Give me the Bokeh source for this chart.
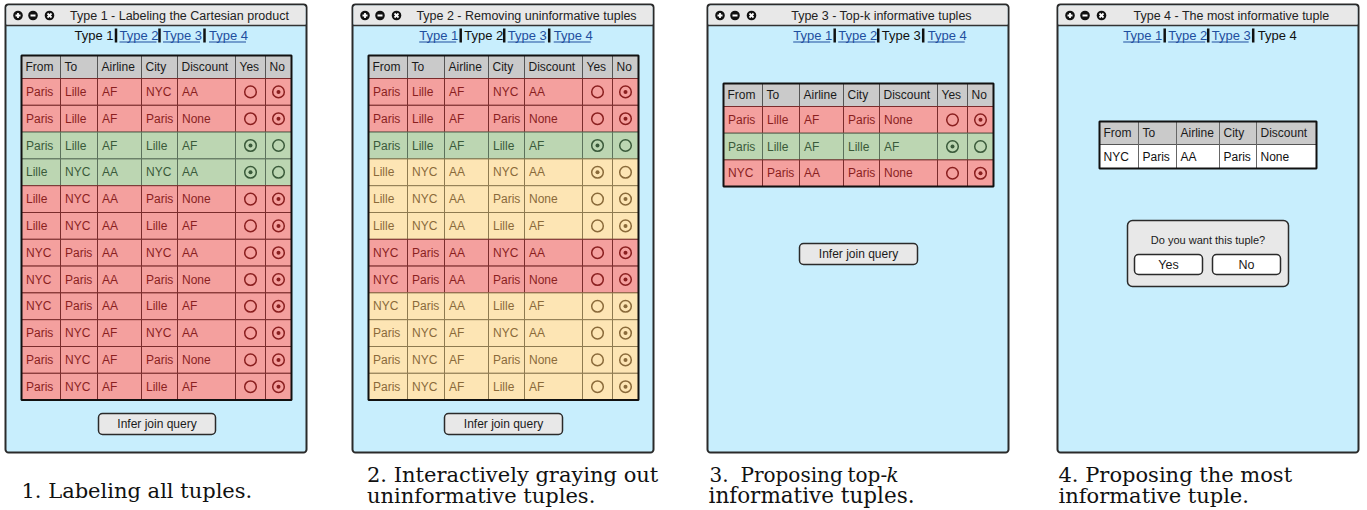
from bokeh.plotting import figure
from bokeh.models import Range1d
from bokeh.core.properties import value
from bokeh.embed import file_html
from bokeh.resources import INLINE

# ---------------- data ----------------
columns = ["From", "To", "Airline", "City", "Discount"]
radio_columns = ["Yes", "No"]

from_city = ["Paris", "Paris", "Paris", "Lille", "Lille", "Lille", "NYC", "NYC", "NYC", "Paris", "Paris", "Paris"]
to_city = ["Lille", "Lille", "Lille", "NYC", "NYC", "NYC", "Paris", "Paris", "Paris", "NYC", "NYC", "NYC"]
airline = ["AF", "AF", "AF", "AA", "AA", "AA", "AA", "AA", "AA", "AF", "AF", "AF"]
city = ["NYC", "Paris", "Lille", "NYC", "Paris", "Lille", "NYC", "Paris", "Lille", "NYC", "Paris", "Lille"]
discount = ["AA", "None", "AF", "AA", "None", "AF", "AA", "None", "AF", "AA", "None", "AF"]

type1_state = ["neg", "neg", "pos", "pos", "neg", "neg", "neg", "neg", "neg", "neg", "neg", "neg"]
type1_answer = ["No", "No", "Yes", "Yes", "No", "No", "No", "No", "No", "No", "No", "No"]
type2_state = ["neg", "neg", "pos", "grey", "grey", "grey", "neg", "neg", "grey", "grey", "grey", "grey"]
type2_answer = ["No", "No", "Yes", "Yes", "No", "No", "No", "No", "No", "No", "No", "No"]
type3_rows = [1, 2, 7]
type3_state = ["neg", "pos", "neg"]
type3_answer = ["No", "Yes", "No"]
type4_row = 7

window_titles = ["Type 1 - Labeling the Cartesian product",
                 "Type 2 - Removing uninformative tuples",
                 "Type 3 - Top-k informative tuples",
                 "Type 4 - The most informative tuple"]
link_labels = ["Type 1", "Type 2", "Type 3", "Type 4"]
button_label = "Infer join query"
dialog_question = "Do you want this tuple?"
dialog_buttons = ["Yes", "No"]

# ---------------- styles / layout ----------------
SANS = value("Liberation Sans")
SERIF = value("DejaVu Serif")
row_fill = {"neg": "#f4a09e", "pos": "#bcd6b2", "grey": "#fde5b4", "none": "#ffffff"}
row_text = {"neg": "#8a1f1f", "pos": "#3a5a3a", "grey": "#8a6a3a", "none": "#111111"}
row_line = {"neg": "#7a2c2c", "pos": "#5c725c", "grey": "#8e7a50", "none": "#666666"}
HEAD_FILL = "#cacaca"
BODY_FILL = "#c8eefd"
BAR_FILL = "#e8e8e8"
LINK = "#1f4f9f"

W, H = 1364, 510
win_left = [5, 352, 707, 1057]
WIN_W = 301
WIN_TOP, WIN_BOT, BAR_BOT = 4, 452, 25
edges_rel = [16, 55, 92, 136, 172, 230, 260, 286]
edges4_rel = [42, 81, 119, 162, 199, 259]
link_start = [74, 418.7, 792.7, 1122.7]

p = figure(width=W, height=H, x_range=Range1d(0, W), y_range=Range1d(H, 0),
           output_backend="svg", toolbar_location=None, min_border=0,
           x_axis_location=None, y_axis_location=None)
p.grid.visible = False
p.outline_line_color = None
p.background_fill_color = "white"

texts = {}


def add_text(x, y, t, color, size="12px", font="sans", align="left", baseline="middle"):
    key = (size, font, align, baseline)
    d = texts.setdefault(key, {"x": [], "y": [], "text": [], "color": []})
    d["x"].append(x); d["y"].append(y); d["text"].append(t); d["color"].append(color)


# ---- windows ----
for k, L in enumerate(win_left):
    p.quad(left=[L], right=[L + WIN_W], top=[WIN_TOP], bottom=[WIN_BOT], fill_color=BODY_FILL,
           line_color="#2a2a2a", line_width=2, border_radius=3)
    p.quad(left=[L + 1], right=[L + WIN_W - 1], top=[WIN_TOP + 1], bottom=[BAR_BOT], fill_color=BAR_FILL,
           line_color=None, border_radius=2)
    p.segment(x0=[L], x1=[L + WIN_W], y0=[BAR_BOT], y1=[BAR_BOT], line_color="#333333", line_width=1.5)
    icx = [L + 12.5, L + 27.5, L + 44]
    p.circle(x=icx, y=[15, 15, 15], radius=4.8, fill_color="#111111", line_color=None)
    p.segment(x0=[icx[0] - 2.5, icx[0], icx[1] - 2.5, icx[2] - 2, icx[2] - 2],
              x1=[icx[0] + 2.5, icx[0], icx[1] + 2.5, icx[2] + 2, icx[2] + 2],
              y0=[15, 12.5, 15, 13, 17], y1=[15, 17.5, 15, 17, 13], line_color="white", line_width=1.8)
    add_text(L + 174, 15, window_titles[k], "#222222", size="12.5px", align="center")
    S = link_start[k]
    starts = [0, 45, 88.5, 134.5]
    bars = [41.5, 85, 130]
    for j, lab in enumerate(link_labels):
        if j == k:
            add_text(S + starts[j], 35, lab, "#111111", size="13px")
        else:
            add_text(S + starts[j], 35, lab, LINK, size="13px")
            p.segment(x0=[S + starts[j]], x1=[S + starts[j] + 37], y0=[41.5], y1=[41.5],
                      line_color=LINK, line_width=1)
    p.segment(x0=[S + b for b in bars], x1=[S + b for b in bars], y0=[28] * 3, y1=[42] * 3,
              line_color="#111111", line_width=2.5)


def draw_table(L, top, hh, rh, rows, states, answers):
    e = [L + v for v in edges_rel]
    p.quad(left=[e[0]], right=[e[-1]], top=[top], bottom=[top + hh], fill_color=HEAD_FILL,
           line_color="#555555", line_width=1)
    for c, name in enumerate(columns + radio_columns):
        add_text(e[c] + 4, top + hh / 2, name, "#1a1a1a")
    p.segment(x0=e[1:-1], x1=e[1:-1], y0=[top] * 6, y1=[top + hh] * 6, line_color="#555555", line_width=1)
    for r, (tup, st, ans) in enumerate(zip(rows, states, answers)):
        y0 = top + hh + r * rh
        y1 = y0 + rh
        yc = (y0 + y1) / 2
        p.quad(left=[e[0]], right=[e[-1]], top=[y0], bottom=[y1], fill_color=row_fill[st],
               line_color=row_line[st], line_width=1)
        p.segment(x0=e[1:-1], x1=e[1:-1], y0=[y0] * 6, y1=[y1] * 6, line_color=row_line[st], line_width=1)
        for c, t in enumerate(tup):
            add_text(e[c] + 4.5, yc, t, row_text[st])
        cx = [(e[5] + e[6]) / 2, (e[6] + e[7]) / 2]
        p.circle(x=cx, y=[yc, yc], radius=5.8, fill_color=row_fill[st], line_color=row_text[st], line_width=1.5)
        sel = cx[0] if ans == "Yes" else cx[1]
        p.circle(x=[sel], y=[yc], radius=2, fill_color=row_text[st], line_color=None)
    p.quad(left=[e[0]], right=[e[-1]], top=[top], bottom=[top + hh + len(rows) * rh], fill_color=None,
           line_color="#111111", line_width=2)


def draw_button(x0, x1, y0, y1, label, fill=BAR_FILL, size="12px"):
    p.quad(left=[x0], right=[x1], top=[y0], bottom=[y1], fill_color=fill, line_color="#2a2a2a",
           line_width=1.5, border_radius=4)
    add_text((x0 + x1) / 2, (y0 + y1) / 2, label, "#1a1a1a", size=size, align="center")


all_tuples = list(zip(from_city, to_city, airline, city, discount))

L = win_left[0]
draw_table(L, 55, 23, 26.8, all_tuples, type1_state, type1_answer)
draw_button(L + 93, L + 210, 413, 434, button_label)
L = win_left[1]
draw_table(L, 55, 23, 26.8, all_tuples, type2_state, type2_answer)
draw_button(L + 92, L + 210, 413, 434, button_label)
L = win_left[2]
draw_table(L, 83, 23, 26.7, [all_tuples[i] for i in type3_rows], type3_state, type3_answer)
draw_button(L + 92, L + 210, 243, 264, button_label)
L = win_left[3]
e4 = [L + v for v in edges4_rel]
p.quad(left=[e4[0]], right=[e4[-1]], top=[121], bottom=[144], fill_color=HEAD_FILL, line_color="#555555")
p.quad(left=[e4[0]], right=[e4[-1]], top=[144], bottom=[168], fill_color="white", line_color="#555555")
p.segment(x0=e4[1:-1], x1=e4[1:-1], y0=[121] * 4, y1=[168] * 4, line_color="#666666", line_width=1)
p.quad(left=[e4[0]], right=[e4[-1]], top=[121], bottom=[168], fill_color=None, line_color="#111111", line_width=2)
for c, name in enumerate(columns):
    add_text(e4[c] + 4, 132.5, name, "#1a1a1a")
    add_text(e4[c] + 4, 156, all_tuples[type4_row][c], "#111111")
p.quad(left=[L + 70], right=[L + 231], top=[220], bottom=[286], fill_color=BAR_FILL, line_color="#2a2a2a",
       line_width=1.5, border_radius=5)
add_text(L + 150.5, 239.5, dialog_question, "#1a1a1a", size="11px", align="center")
draw_button(L + 77, L + 145, 254, 274, dialog_buttons[0], fill="white", size="12.5px")
draw_button(L + 155, L + 223, 254, 274, dialog_buttons[1], fill="white", size="12.5px")

# ---- captions ----
CAP = "#111111"
CS = "21px"
add_text(21, 490, "1. Labeling all tuples.", CAP, size=CS, font="serif", baseline="alphabetic")
add_text(366.5, 474, "2. Interactively graying out", CAP, size=CS, font="serif", baseline="alphabetic")
add_text(366.5, 495, "uninformative tuples.", CAP, size=CS, font="serif", baseline="alphabetic")
add_text(709, 474, "3.", CAP, size="20px", font="serif", baseline="alphabetic")
add_text(740, 474, "Proposing", CAP, size="20px", font="serif", baseline="alphabetic")
add_text(847, 474, "top-", CAP, size="20px", font="serif", baseline="alphabetic")
add_text(708, 495, "informative tuples.", CAP, size="21.5px", font="serif", baseline="alphabetic")
add_text(1058, 474, "4. Proposing the most", CAP, size=CS, font="serif", baseline="alphabetic")
add_text(1058, 495, "informative tuple.", CAP, size=CS, font="serif", baseline="alphabetic")

for (size, font, align, baseline), d in texts.items():
    p.text(x=d["x"], y=d["y"], text=d["text"], text_color=d["color"], text_font_size=size,
           text_font=SERIF if font == "serif" else SANS, text_align=align, text_baseline=baseline)
p.text(x=[886], y=[474], text=["k"], text_color=CAP, text_font_size="20px", text_font=SERIF,
       text_font_style="italic", text_baseline="alphabetic")

open("out.html", "w").write(file_html(p, INLINE))
